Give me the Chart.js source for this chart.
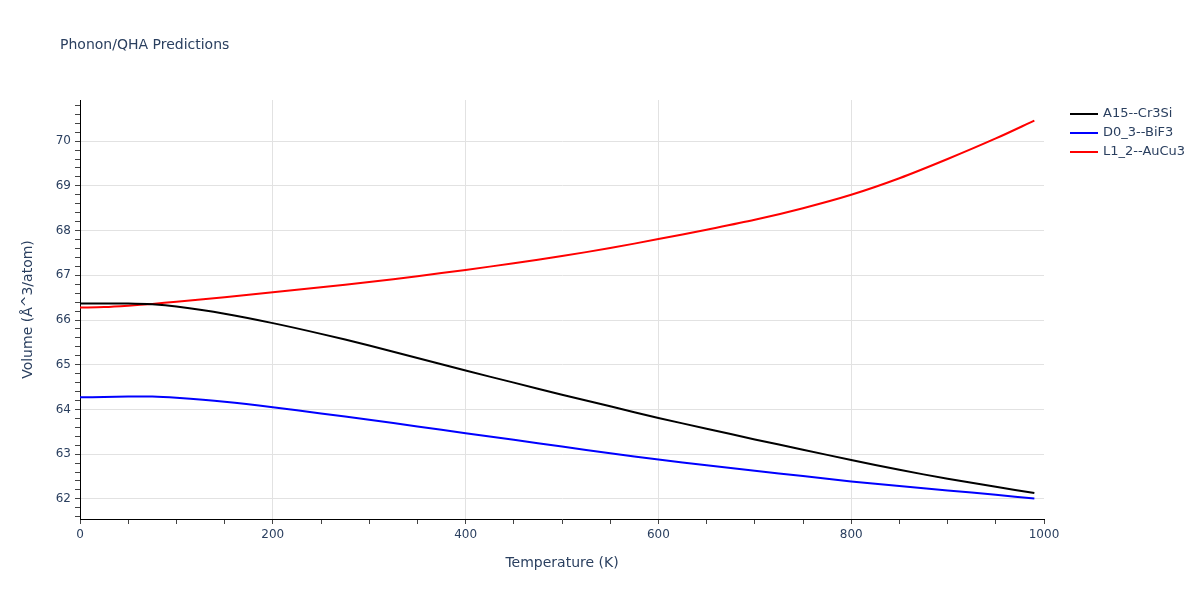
<!DOCTYPE html>
<html>
<head>
<meta charset="utf-8">
<script src="https://cdn.jsdelivr.net/npm/chart.js@4.4.1/dist/chart.umd.min.js"></script>
<style>
html,body{margin:0;padding:0;background:#fff;}
#c{display:block;}
</style>
</head>
<body>
<canvas id="c" width="1200" height="600"></canvas>
<script>
const temperatures = [0, 25, 50, 75, 100, 150, 200, 250, 300, 350, 400, 450, 500, 550, 600, 650, 700, 750, 800, 850, 900, 950, 990];
const a15Cr3Si = [66.37, 66.37, 66.37, 66.35, 66.30, 66.14, 65.93, 65.69, 65.43, 65.15, 64.87, 64.60, 64.33, 64.07, 63.81, 63.57, 63.33, 63.10, 62.87, 62.65, 62.45, 62.27, 62.13];
const d03BiF3 = [64.27, 64.28, 64.29, 64.29, 64.26, 64.17, 64.05, 63.91, 63.77, 63.62, 63.47, 63.32, 63.17, 63.02, 62.88, 62.75, 62.63, 62.51, 62.39, 62.29, 62.19, 62.09, 62.01];
const l12AuCu3 = [66.28, 66.29, 66.32, 66.36, 66.41, 66.51, 66.62, 66.73, 66.85, 66.98, 67.12, 67.27, 67.43, 67.61, 67.81, 68.02, 68.24, 68.50, 68.80, 69.17, 69.60, 70.06, 70.46];
const seriesNames = ['A15--Cr3Si', 'D0_3--BiF3', 'L1_2--AuCu3'];
const seriesColors = ['#000000', '#0000ff', '#ff0000'];
const xTickValues = [0, 50, 100, 150, 200, 250, 300, 350, 400, 450, 500, 550, 600, 650, 700, 750, 800, 850, 900, 950, 1000];
const xTickLabels = [0, 200, 400, 600, 800, 1000];
const yMajorTicks = [62, 63, 64, 65, 66, 67, 68, 69, 70];
const yMinorTicks = [61.6, 61.8, 62, 62.2, 62.4, 62.6, 62.8, 63, 63.2, 63.4, 63.6, 63.8, 64, 64.2, 64.4, 64.6, 64.8, 65, 65.2, 65.4, 65.6, 65.8, 66, 66.2, 66.4, 66.6, 66.8, 67, 67.2, 67.4, 67.6, 67.8, 68, 68.2, 68.4, 68.6, 68.8, 69, 69.2, 69.4, 69.6, 69.8, 70, 70.2, 70.4, 70.6, 70.8];

const FONT = '"DejaVu Sans", Verdana, sans-serif';
const TXT = '#2a3f5f';
const GRID = '#e2e2e2';

const isMajorY = v => yMajorTicks.some(m => Math.abs(m - v) < 1e-6);

const allSeries = [a15Cr3Si, d03BiF3, l12AuCu3];
const datasets = allSeries.map((vals, i) => ({
  label: seriesNames[i],
  data: temperatures.map((t, j) => ({x: t, y: vals[j]})),
  borderColor: seriesColors[i],
  backgroundColor: seriesColors[i],
  borderWidth: 2,
  pointRadius: 0,
  tension: 0.3,
  fill: false
}));

const overlay = {
  id: 'overlay',
  afterDraw(chart) {
    const ctx = chart.ctx;
    ctx.save();
    ctx.fillStyle = TXT;
    ctx.font = '14px ' + FONT;
    ctx.textAlign = 'left';
    ctx.textBaseline = 'middle';
    ctx.fillText('Phonon/QHA Predictions', 60, 45);
    ctx.font = '13px ' + FONT;
    chart.data.datasets.forEach((ds, i) => {
      const y = 114 + i * 19;
      ctx.strokeStyle = ds.borderColor;
      ctx.lineWidth = 2;
      ctx.beginPath();
      ctx.moveTo(1070, y);
      ctx.lineTo(1098, y);
      ctx.stroke();
      ctx.fillStyle = TXT;
      ctx.fillText(ds.label, 1103, y);
    });
    ctx.restore();
  }
};

new Chart(document.getElementById('c'), {
  type: 'line',
  data: {datasets},
  options: {
    responsive: false,
    animation: false,
    devicePixelRatio: 1,
    layout: {padding: {top: 100, right: 156, left: 0, bottom: 0}},
    plugins: {legend: {display: false}, title: {display: false}, tooltip: {enabled: false}},
    scales: {
      x: {
        type: 'linear',
        min: 0,
        max: 1000,
        afterFit: s => { s.height = 81; },
        afterBuildTicks: s => { s.ticks = xTickValues.map(v => ({value: v})); },
        border: {display: true, color: '#000', width: 1},
        grid: {
          drawTicks: true,
          tickLength: 5,
          tickColor: '#444',
          color: c => (c.tick && xTickLabels.includes(c.tick.value) && c.tick.value > 0 && c.tick.value < 1000) ? GRID : 'rgba(0,0,0,0)',
          lineWidth: 1
        },
        ticks: {
          autoSkip: false,
          maxRotation: 0,
          padding: 4,
          color: TXT,
          font: {family: FONT, size: 12},
          callback: v => xTickLabels.includes(v) ? String(v) : ''
        },
        title: {display: true, text: 'Temperature (K)', color: TXT, font: {family: FONT, size: 14}, padding: {top: 0, bottom: 28}}
      },
      y: {
        type: 'linear',
        min: 61.55,
        max: 70.92,
        afterFit: s => { s.width = 80; },
        afterBuildTicks: s => { s.ticks = yMinorTicks.map(v => ({value: v})); },
        border: {display: true, color: '#000', width: 1},
        grid: {
          drawTicks: true,
          tickLength: 5,
          tickColor: '#444',
          color: c => (c.tick && isMajorY(c.tick.value)) ? GRID : 'rgba(0,0,0,0)',
          lineWidth: 1
        },
        ticks: {
          autoSkip: false,
          padding: 4,
          color: TXT,
          font: {family: FONT, size: 12},
          callback: v => isMajorY(v) ? String(Math.round(v)) : ''
        },
        title: {display: true, text: 'Volume (Å^3/atom)', color: TXT, font: {family: FONT, size: 14}, padding: {top: 20, bottom: 0}}
      }
    }
  },
  plugins: [overlay]
});
</script>
</body>
</html>
